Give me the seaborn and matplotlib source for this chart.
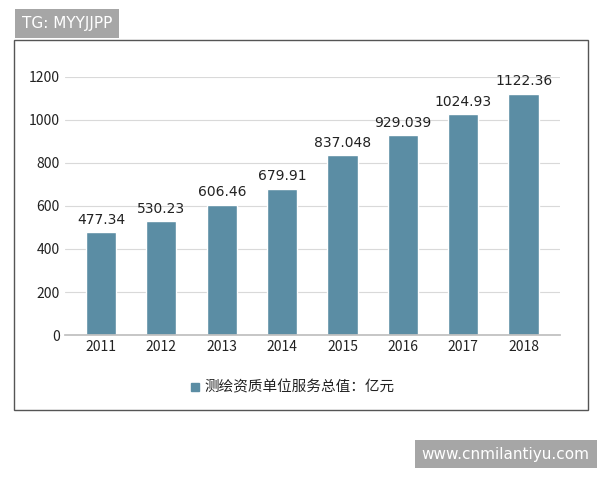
import matplotlib
matplotlib.use("Agg")
import matplotlib.pyplot as plt
import seaborn as sns
import pandas as pd
from matplotlib.patches import Rectangle

years = ["2011", "2012", "2013", "2014", "2015", "2016", "2017", "2018"]
values = [477.34, 530.23, 606.46, 679.91, 837.048, 929.039, 1024.93, 1122.36]
labels = ["477.34", "530.23", "606.46", "679.91", "837.048", "929.039", "1024.93", "1122.36"]
series_name = "测绘资质单位服务总值：亿元"

sns.set_theme(style="white")
plt.rcParams['font.family'] = ['Noto Sans CJK SC', 'DejaVu Sans']

fig = plt.figure(figsize=(6, 4.8), dpi=100)
fig.patches.append(Rectangle((0.023, 0.146), 0.957, 0.771, transform=fig.transFigure,
                             fill=False, edgecolor="#555555", linewidth=1))
ax = fig.add_axes([0.108, 0.302, 0.825, 0.538])
df = pd.DataFrame({"year": years, "value": values})
sns.barplot(data=df, x="year", y="value", color="#5b8da4", saturation=1, width=0.5, ax=ax)
for i, (v, t) in enumerate(zip(values, labels)):
    ax.text(i, v + 25, t, ha="center", va="bottom", fontsize=10, color="#222222", family="DejaVu Sans")
ax.set_ylim(0, 1200)
ax.set_yticks(range(0, 1201, 200))
ax.yaxis.grid(True, color="#d9d9d9", linewidth=0.8)
ax.set_axisbelow(True)
for s in ["top", "right", "left"]:
    ax.spines[s].set_visible(False)
ax.spines["bottom"].set_color("#bfbfbf")
ax.set_xlabel("")
ax.set_ylabel("")
ax.tick_params(axis="both", labelsize=10, colors="#222222", length=0)
ax.set_xlim(-0.6, 7.6)

fig.patches.append(Rectangle((0.318, 0.185), 0.014, 0.018, transform=fig.transFigure, color="#5b8da4"))
fig.text(0.34, 0.194, series_name, fontsize=10.5, va="center", color="#222222")

fig.text(0.037, 0.951, "TG: MYYJJPP", fontsize=11, color="white", va="center",
         bbox=dict(boxstyle="square,pad=0.45", fc="#a6a6a6", ec="none"), family="DejaVu Sans")
fig.text(0.703, 0.054, "www.cnmilantiyu.com", fontsize=11, color="white", va="center",
         bbox=dict(boxstyle="square,pad=0.45", fc="#a6a6a6", ec="none"), family="DejaVu Sans")

fig.savefig("out.png", dpi=100)
